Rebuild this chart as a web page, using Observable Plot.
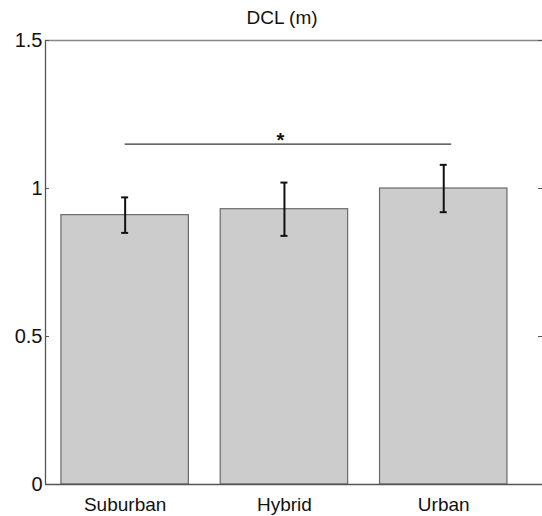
<!DOCTYPE html>
<html>
<head>
<meta charset="utf-8">
<script src="https://cdn.jsdelivr.net/npm/d3@7"></script>
<script src="https://cdn.jsdelivr.net/npm/@observablehq/plot@0.6"></script>
<style>
  html, body { margin: 0; padding: 0; background: #fff; overflow: hidden; }
  svg { display: block; }
</style>
</head>
<body>
<div id="chart"></div>
<script>
const title = "DCL (m)";
const categories = ["Suburban", "Hybrid", "Urban"];
const positions = [1, 2, 3];
const means = [0.91, 0.93, 1.00];
const errors = [0.06, 0.09, 0.08];
const yTicks = [0, 0.5, 1, 1.5];
const sigX = [1, 3.05];
const sigY = 1.15;
const sigLabel = "*";

const data = categories.map((c, i) => ({
  name: c, pos: positions[i], mean: means[i],
  lo: means[i] - errors[i], hi: means[i] + errors[i]
}));
const barHalf = 0.4, capHalf = 0.022;
const xDomain = [0.5, 3.62];

const chart = Plot.plot({
  width: 542,
  height: 516,
  marginLeft: 45,
  marginRight: 0,
  marginTop: 40,
  marginBottom: 32,
  style: { fontFamily: "'Liberation Sans', Arial, sans-serif", background: "#fff", color: "#111" },
  x: { type: "linear", domain: xDomain },
  y: { domain: [0, 1.5] },
  marks: [
    Plot.rectY(data, { x1: d => d.pos - barHalf, x2: d => d.pos + barHalf, y: "mean", fill: "#cccccc", stroke: "#6a6a6a", strokeWidth: 1.2 }),
    Plot.ruleX(data, { x: "pos", y1: "lo", y2: "hi", stroke: "#111", strokeWidth: 2 }),
    Plot.ruleY(data, { y: "lo", x1: d => d.pos - capHalf, x2: d => d.pos + capHalf, stroke: "#111", strokeWidth: 2 }),
    Plot.ruleY(data, { y: "hi", x1: d => d.pos - capHalf, x2: d => d.pos + capHalf, stroke: "#111", strokeWidth: 2 }),
    // significance bracket
    Plot.ruleY([sigY], { x1: sigX[0], x2: sigX[1], stroke: "#333", strokeWidth: 1.3 }),
    Plot.text([sigLabel], { x: (sigX[0] + sigX[1]) / 2 - 0.05, y: sigY, dy: -4, fontSize: 20, fontWeight: "bold", fill: "#111" }),
    // axes box
    Plot.ruleX([xDomain[0]], { stroke: "#555", strokeWidth: 1.3 }),
    Plot.ruleY([0], { stroke: "#555", strokeWidth: 1.3 }),
    Plot.ruleY([1.5], { stroke: "#888", strokeWidth: 1.3 }),
    // inward ticks
    Plot.ruleY(yTicks, { x1: xDomain[0], x2: xDomain[0] + 0.025, stroke: "#555" }),
    Plot.ruleY(yTicks, { x1: xDomain[1] - 0.025, x2: xDomain[1], stroke: "#555" }),
    Plot.axisY({ ticks: yTicks, tickSize: 0, tickPadding: 3, fontSize: 20, tickFormat: d => String(d), label: null, color: "#111" }),
    Plot.axisX({ ticks: positions, tickSize: 0, tickPadding: 13, fontSize: 19, tickFormat: d => categories[d - 1], label: null, color: "#111" }),
    Plot.text([title], { frameAnchor: "top", dx: -12, dy: -17, fontSize: 19, fill: "#111", lineAnchor: "bottom" })
  ]
});
document.getElementById("chart").appendChild(chart);
</script>
</body>
</html>
